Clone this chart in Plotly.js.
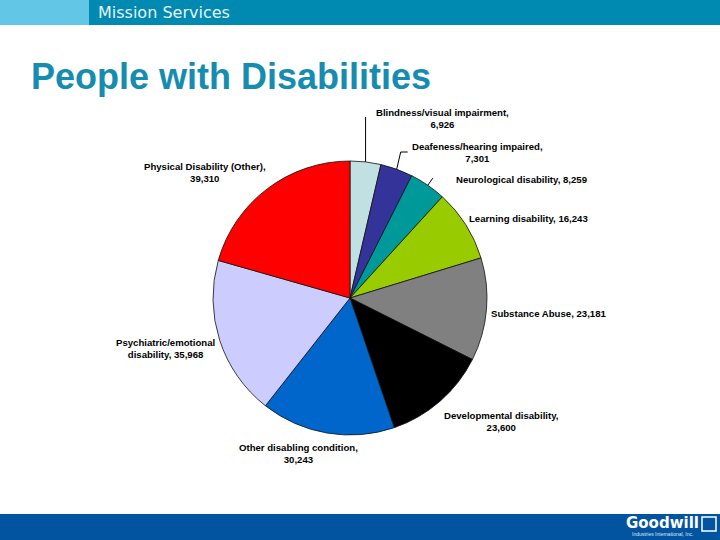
<!DOCTYPE html>
<html>
<head>
<meta charset="utf-8">
<script src="https://cdn.plot.ly/plotly-3.0.1.min.js"></script>
<style>
  html, body { margin: 0; padding: 0; background: #fff; }
  #chart { width: 720px; height: 540px; }
</style>
</head>
<body>
<div id="chart"></div>
<script>
// data
const labels = [
    'Blindness/visual impairment',
    'Deafeness/hearing impaired',
    'Neurological disability',
    'Learning disability',
    'Substance Abuse',
    'Developmental disability',
    'Other disabling condition',
    'Psychiatric/emotional disability',
    'Physical Disability (Other)'
];
const values = [6926, 7301, 8259, 16243, 23181, 23600, 30243, 35968, 39310];
const colors = ['#c0e0e2', '#333399', '#009999', '#99cc00', '#808080',
                '#000000', '#0066cc', '#ccccff', '#ff0000'];

// label text as laid out on the slide (line breaks)
const labelText = [
    'Blindness/visual impairment,<br>6,926',
    'Deafeness/hearing impaired,<br>7,301',
    'Neurological disability, 8,259',
    'Learning disability, 16,243',
    'Substance Abuse, 23,181',
    'Developmental disability,<br>23,600',
    'Other disabling condition,<br>30,243',
    'Psychiatric/emotional<br>disability, 35,968',
    'Physical Disability (Other),<br>39,310'
];
const labelPos = [
    [442, 118], [477, 152], [521, 179], [528, 218], [548, 313],
    [501, 421], [298, 453], [165, 348], [205, 172]
];

const W = 720, H = 540;
const cx = 350, cy = 298, R = 137;

// rim point at the middle of slice i (clockwise from 12 o'clock)
function rimPoint(i) {
    const total = values.reduce((a, b) => a + b, 0);
    let before = 0;
    for (let k = 0; k < i; k++) before += values[k];
    const a = 2 * Math.PI * (before + values[i] / 2) / total;
    return [cx + R * Math.sin(a), cy - R * Math.cos(a)];
}

const trace = {
    type: 'pie',
    labels: labels,
    values: values,
    sort: false,
    direction: 'clockwise',
    rotation: 0,
    textinfo: 'none',
    hoverinfo: 'label+value',
    marker: {colors: colors, line: {color: '#111', width: 0.8}},
    domain: {
        x: [(cx - R) / W, (cx + R) / W],
        y: [(H - cy - R) / H, (H - cy + R) / H]
    },
    showlegend: false
};

const labelFont = {family: 'Liberation Sans, Arial, sans-serif', size: 9.6, color: '#000'};

const annotations = labelText.map((t, i) => ({
    x: labelPos[i][0], y: labelPos[i][1], xref: 'x', yref: 'y',
    text: '<b>' + t + '</b>', showarrow: false, font: labelFont,
    align: 'center', xanchor: 'center', yanchor: 'middle'
}));

annotations.push(
    {x: 96, y: 12.5, xref: 'x', yref: 'y', text: 'Mission Services', showarrow: false,
     xanchor: 'left', yanchor: 'middle',
     font: {family: 'DejaVu Sans, sans-serif', size: 16, color: '#e6f2f7'}},
    {x: 29, y: 76, xref: 'x', yref: 'y', text: '<b>People with Disabilities</b>', showarrow: false,
     xanchor: 'left', yanchor: 'middle',
     font: {family: 'Liberation Sans, Arial, sans-serif', size: 36, color: '#168cb0'}},
    {x: 662, y: 523, xref: 'x', yref: 'y', text: '<b>Goodwill</b>', showarrow: false,
     xanchor: 'center', yanchor: 'middle',
     font: {family: 'DejaVu Sans, sans-serif', size: 15, color: '#fff'}},
    {x: 662, y: 534, xref: 'x', yref: 'y', text: 'Industries International, Inc.', showarrow: false,
     xanchor: 'center', yanchor: 'middle',
     font: {family: 'Liberation Sans, Arial, sans-serif', size: 5, color: '#dde8f4'}}
);

// leader lines for the small slices
const p0 = rimPoint(0), p1 = rimPoint(1), p2 = rimPoint(2);
const leaderLine = {color: '#000', width: 1};
const shapes = [
    {type: 'rect', xref: 'x', yref: 'y', x0: 0, x1: 89, y0: 0, y1: 25,
     fillcolor: '#62c6e6', line: {width: 0}, layer: 'below'},
    {type: 'rect', xref: 'x', yref: 'y', x0: 89, x1: 720, y0: 0, y1: 25,
     fillcolor: '#0089b1', line: {width: 0}, layer: 'below'},
    {type: 'rect', xref: 'x', yref: 'y', x0: 0, x1: 720, y0: 514, y1: 540,
     fillcolor: '#0254a0', line: {width: 0}, layer: 'below'},
    {type: 'rect', xref: 'x', yref: 'y', x0: 702, x1: 716, y0: 517, y1: 531,
     fillcolor: 'rgba(0,0,0,0)', line: {color: '#fff', width: 1.5}},
    {type: 'path', xref: 'x', yref: 'y',
     path: `M${p0[0]},${p0[1]} L${p0[0]},117`, line: leaderLine},
    {type: 'path', xref: 'x', yref: 'y',
     path: `M${p1[0]},${p1[1]} L${p1[0] + 4},152 L${p1[0] + 11},152`, line: leaderLine},
    {type: 'path', xref: 'x', yref: 'y',
     path: `M${p2[0]},${p2[1]} L${p2[0] + 5},${p2[1] - 7}`, line: leaderLine}
];

const layout = {
    width: W,
    height: H,
    margin: {l: 0, r: 0, t: 0, b: 0},
    paper_bgcolor: '#fff',
    plot_bgcolor: 'rgba(0,0,0,0)',
    xaxis: {range: [0, W], visible: false, fixedrange: true},
    yaxis: {range: [H, 0], visible: false, fixedrange: true},
    annotations: annotations,
    shapes: shapes
};

Plotly.newPlot('chart', [trace], layout, {displayModeBar: false, staticPlot: true});
</script>
</body>
</html>
